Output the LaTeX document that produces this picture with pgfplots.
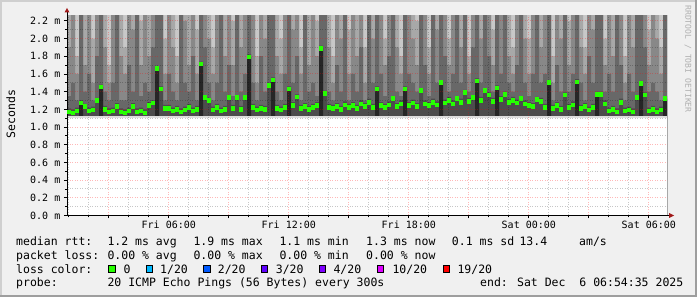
\documentclass[border=0pt]{standalone}
\usepackage{pgfplots}
\pgfplotsset{compat=1.18}
\usepackage{pgfplotstable}
\usepackage{fontspec}
\setmainfont{DejaVu Sans Mono}

\definecolor{bgc}{HTML}{F0F0F0}
\definecolor{shadea}{HTML}{CFCFCF}
\definecolor{shadeb}{HTML}{9E9E9E}
\definecolor{arrowc}{HTML}{A01818}
\definecolor{wmc}{HTML}{B0B0B0}
\definecolor{lossA}{HTML}{26FF00}
\definecolor{lossB}{HTML}{00B8FF}
\definecolor{lossC}{HTML}{0059FF}
\definecolor{lossD}{HTML}{5E00FF}
\definecolor{lossE}{HTML}{7E00FF}
\definecolor{lossF}{HTML}{DD00FF}
\definecolor{lossG}{HTML}{FF0000}
\definecolor{smA}{HTML}{C8C8C8}
\definecolor{smB}{HTML}{A8A8A8}
\definecolor{smC}{HTML}{888888}
\definecolor{smD}{HTML}{686868}
\definecolor{smE}{HTML}{4C4C4C}
\definecolor{smF}{HTML}{262626}
\definecolor{fringe}{HTML}{DEDEDE}

\newcommand\lf{\fontsize{11.5bp}{13bp}\selectfont}

% x = hours since Fri 00:00; med = median rtt (ms); B..F = smoke layer tops (ms)
\pgfplotstableread{
x med B C D E F
0.91 1.17 2.3 1.9 1.35 1.21 0
1.11 1.16 2.3 2.3 1.5 1.20 0
1.31 1.18 1.8 1.6 1.3 1.22 0
1.51 1.27 2.3 2.3 2.3 1.30 1.27
1.71 1.23 2.3 1.7 1.4 1.26 0
1.91 1.18 2.3 2.3 1.6 1.22 0
2.11 1.19 2.0 1.5 1.3 1.23 0
2.31 1.30 2.3 2.3 1.8 1.33 0
2.51 1.45 2.3 2.3 2.3 1.48 1.45
2.71 1.20 2.3 1.9 1.4 1.24 0
2.91 1.17 1.7 1.5 1.3 1.21 0
3.11 1.18 2.3 2.3 1.5 1.22 0
3.31 1.23 2.3 2.3 2.3 1.27 0
3.51 1.17 2.3 1.8 1.3 1.21 0
3.71 1.16 1.9 1.6 1.3 1.20 0
3.91 1.18 2.3 2.3 1.7 1.22 0
4.11 1.23 2.3 2.1 1.4 1.27 0
4.31 1.17 2.3 2.3 2.3 1.21 0
4.51 1.18 2.2 1.7 1.35 1.22 0
4.71 1.16 2.3 2.3 1.5 1.20 0
4.91 1.24 2.3 1.8 1.4 1.28 0
5.11 1.27 2.3 2.3 1.9 1.30 0
5.31 1.66 2.3 2.3 2.3 1.69 1.66
5.51 1.43 2.3 2.3 2.3 1.46 0
5.71 1.21 2.0 1.6 1.3 1.25 0
5.91 1.21 2.3 2.3 1.6 1.25 0
6.11 1.18 2.3 1.9 1.4 1.22 0
6.31 1.20 1.8 1.5 1.3 1.24 0
6.51 1.17 2.3 2.3 2.3 1.21 0
6.71 1.19 2.3 2.2 1.5 1.23 0
6.91 1.22 2.3 1.7 1.4 1.26 0
7.11 1.18 2.3 2.3 1.8 1.22 0
7.31 1.20 2.1 1.6 1.3 1.24 0
7.51 1.71 2.3 2.3 2.3 1.74 1.71
7.71 1.33 2.3 2.3 1.9 1.36 0
7.91 1.30 2.3 2.0 1.5 1.33 0
8.11 1.19 1.9 1.6 1.3 1.23 0
8.31 1.22 2.3 2.3 1.5 1.26 0
8.51 1.18 2.3 2.3 2.3 1.22 0
8.71 1.20 2.3 1.8 1.4 1.24 0
8.91 1.33 2.3 2.3 1.7 1.36 0
9.11 1.21 2.2 1.7 1.35 1.25 0
9.31 1.33 2.3 2.3 2.3 1.36 0
9.51 1.20 2.3 1.9 1.4 1.24 0
9.71 1.33 2.3 2.3 1.6 1.36 0
9.91 1.79 2.3 2.3 2.3 1.82 1.79
10.11 1.22 2.3 2.3 1.5 1.26 0
10.31 1.19 1.8 1.5 1.3 1.23 0
10.51 1.21 2.3 2.3 1.8 1.25 0
10.71 1.20 2.3 2.0 1.4 1.24 0
10.91 1.47 2.3 2.3 2.3 1.50 0
11.11 1.53 2.3 2.3 2.3 1.56 1.53
11.31 1.21 2.3 1.8 1.4 1.25 0
11.51 1.19 2.0 1.6 1.3 1.23 0
11.71 1.22 2.3 2.3 1.6 1.26 0
11.91 1.43 2.3 2.3 2.3 1.46 1.43
12.11 1.24 2.3 2.1 1.5 1.28 0
12.31 1.34 2.3 2.3 1.8 1.37 0
12.51 1.21 1.9 1.6 1.3 1.25 0
12.71 1.23 2.3 2.3 2.3 1.27 0
12.91 1.20 2.3 1.7 1.4 1.24 0
13.11 1.22 2.3 2.3 1.5 1.26 0
13.31 1.24 2.2 1.8 1.35 1.28 0
13.51 1.89 2.3 2.3 2.3 1.92 1.89
13.71 1.38 2.3 2.3 2.3 1.41 0
13.91 1.22 2.3 1.9 1.4 1.26 0
14.11 1.21 1.8 1.5 1.3 1.25 0
14.31 1.23 2.3 2.3 1.7 1.27 0
14.51 1.20 2.3 2.0 1.4 1.24 0
14.71 1.25 2.3 2.3 2.3 1.29 0
14.91 1.22 2.1 1.6 1.3 1.26 0
15.11 1.24 2.3 2.3 1.6 1.28 0
15.31 1.21 2.3 1.8 1.4 1.25 0
15.51 1.26 2.3 2.3 1.9 1.30 0
15.71 1.23 1.9 1.5 1.3 1.27 0
15.91 1.28 2.3 2.3 2.3 1.32 0
16.11 1.22 2.3 2.0 1.5 1.26 0
16.31 1.43 2.3 2.3 2.3 1.46 1.43
16.51 1.24 2.3 2.3 1.6 1.28 0
16.71 1.22 2.0 1.7 1.35 1.26 0
16.91 1.25 2.3 2.3 1.8 1.29 0
17.11 1.32 2.3 2.3 2.3 1.35 0
17.31 1.23 2.3 1.9 1.4 1.27 0
17.51 1.26 1.8 1.6 1.35 1.30 0
17.71 1.43 2.3 2.3 2.3 1.46 1.43
17.91 1.24 2.3 2.3 1.6 1.28 0
18.11 1.27 2.3 2.0 1.5 1.31 0
18.31 1.23 2.2 1.7 1.4 1.27 0
18.51 1.41 2.3 2.3 2.3 1.44 0
18.71 1.26 2.3 2.3 1.7 1.30 0
18.91 1.24 1.9 1.6 1.35 1.28 0
19.11 1.28 2.3 2.3 2.3 1.32 0
19.31 1.25 2.3 2.1 1.5 1.29 0
19.51 1.50 2.3 2.3 2.3 1.53 1.50
19.71 1.27 2.3 2.3 1.8 1.31 0
19.91 1.30 2.0 1.7 1.4 1.34 0
20.11 1.26 2.3 2.3 1.6 1.30 0
20.31 1.32 2.3 2.3 2.3 1.35 0
20.51 1.28 2.3 1.9 1.5 1.32 0
20.71 1.39 2.3 2.3 2.3 1.42 0
20.91 1.29 1.8 1.6 1.4 1.33 0
21.11 1.33 2.3 2.3 1.9 1.36 0
21.31 1.52 2.3 2.3 2.3 1.55 1.52
21.51 1.30 2.3 2.0 1.5 1.34 0
21.71 1.41 2.3 2.3 2.3 1.44 0
21.91 1.36 2.3 2.3 1.8 1.39 0
22.11 1.29 2.1 1.7 1.4 1.33 0
22.31 1.44 2.3 2.3 2.3 1.47 1.44
22.51 1.31 2.3 2.3 1.6 1.35 0
22.71 1.37 2.3 2.3 2.3 1.40 0
22.91 1.28 2.3 1.8 1.5 1.32 0
23.11 1.30 1.9 1.6 1.4 1.34 0
23.31 1.27 2.3 2.3 1.7 1.31 0
23.51 1.32 2.3 2.3 2.3 1.35 0
23.71 1.26 2.3 2.0 1.5 1.30 0
23.91 1.24 2.0 1.6 1.35 1.28 0
24.11 1.23 2.3 2.3 1.6 1.27 0
24.31 1.31 2.3 2.3 2.3 1.34 0
24.51 1.29 2.3 1.9 1.5 1.33 0
24.71 1.22 2.3 2.3 1.6 1.26 0
24.91 1.50 2.3 2.3 2.3 1.53 1.50
25.11 1.21 1.8 1.5 1.3 1.25 0
25.31 1.24 2.3 2.3 1.7 1.28 0
25.51 1.20 2.3 2.0 1.4 1.24 0
25.71 1.36 2.3 2.3 2.3 1.39 0
25.91 1.22 2.2 1.7 1.4 1.26 0
26.11 1.25 2.3 2.3 1.6 1.29 0
26.31 1.51 2.3 2.3 2.3 1.54 1.51
26.51 1.21 2.3 1.9 1.5 1.25 0
26.71 1.23 1.9 1.6 1.3 1.27 0
26.91 1.19 2.3 2.3 1.8 1.23 0
27.11 1.22 2.3 2.1 1.5 1.26 0
27.31 1.37 2.3 2.3 2.3 1.40 1.37
27.51 1.37 2.3 2.3 2.3 1.40 0
27.71 1.26 2.0 1.7 1.4 1.30 0
27.91 1.18 2.3 2.3 1.6 1.22 0
28.11 1.20 2.3 1.8 1.4 1.24 0
28.31 1.17 2.3 2.3 2.3 1.21 0
28.51 1.28 2.3 2.3 1.7 1.32 0
28.71 1.18 1.8 1.5 1.3 1.22 0
28.91 1.19 2.3 2.3 1.6 1.23 0
29.11 1.17 2.3 1.9 1.4 1.21 0
29.31 1.33 2.3 2.3 2.3 1.36 0
29.51 1.49 2.3 2.3 2.3 1.52 1.49
29.71 1.36 2.3 2.3 1.9 1.39 0
29.91 1.18 2.1 1.7 1.4 1.22 0
30.11 1.20 2.3 2.3 1.5 1.24 0
30.31 1.17 2.3 2.0 1.4 1.21 0
30.51 1.19 1.9 1.6 1.3 1.23 0
30.71 1.32 2.3 2.3 2.3 1.35 1.32
30.91 1.32 2.3 2.3 2.3 1.35 1.32
}\smoke

\begin{document}
\begin{tikzpicture}
\useasboundingbox (0bp,0bp) rectangle (697bp,297bp);
\fill[bgc] (0bp,0bp) rectangle (697bp,297bp);
\fill[shadea] (0bp,0bp) rectangle (2bp,297bp);
\fill[shadea] (0bp,295bp) rectangle (697bp,297bp);
\fill[shadeb] (695bp,0bp) rectangle (697bp,297bp);
\fill[shadeb] (0bp,0bp) rectangle (697bp,2bp);
\fill[white] (67bp,81.5bp) rectangle (667bp,281.5bp);

\begin{axis}[
  at={(67bp,81.5bp)}, anchor=south west,
  scale only axis, width=600bp, height=200bp,
  xmin=0.91, xmax=30.91, ymin=0, ymax=2.26,
  axis lines*=left,
  axis line style={line width=1bp, black},
  axis on top,
  tick align=outside, major tick length=3bp, minor tick length=2bp,
  tick style={line width=0.8bp, black},
  xtick={3,6,...,30},
  xticklabels={,Fri 06:00,,Fri 12:00,,Fri 18:00,,Sat 00:00,,Sat 06:00},
  minor xtick={1,2,4,5,7,8,10,11,13,14,16,17,19,20,22,23,25,26,28,29},
  ytick={0,0.2,0.4,0.6,0.8,1.0,1.2,1.4,1.6,1.8,2.0,2.2},
  yticklabels={0.0 m,0.2 m,0.4 m,0.6 m,0.8 m,1.0 m,1.2 m,1.4 m,1.6 m,1.8 m,2.0 m,2.2 m},
  minor ytick={0.1,0.3,0.5,0.7,0.9,1.1,1.3,1.5,1.7,1.9,2.1},
  grid=both,
  major grid style={draw=red, opacity=0.28, line width=0.9bp, dash pattern=on 1bp off 1.5bp},
  minor grid style={draw=black, opacity=0.22, line width=0.9bp, dash pattern=on 1bp off 1.5bp},
  tick label style={font=\fontsize{10bp}{11bp}\selectfont},
  xticklabel style={anchor=north, inner sep=0pt, yshift=-2.5bp},
  yticklabel style={anchor=east, inner sep=0pt, xshift=-3.5bp},
]
\addplot[fill=smA, draw=none] coordinates {(0.91,2.3) (30.91,2.3)} \closedcycle;
\addplot[const plot, fill=smB, draw=none] table[x=x, y=B] {\smoke} \closedcycle;
\addplot[const plot, fill=smC, draw=none] table[x=x, y=C] {\smoke} \closedcycle;
\addplot[const plot, fill=smD, draw=none] table[x=x, y=D] {\smoke} \closedcycle;
\addplot[const plot, fill=smE, draw=none] table[x=x, y=E] {\smoke} \closedcycle;
\addplot[const plot, fill=smF, draw=none] table[x=x, y=F] {\smoke} \closedcycle;
\addplot[fill=fringe, draw=none] coordinates {(0.91,1.125) (30.91,1.125)} \closedcycle;
\addplot[fill=white, draw=none] coordinates {(0.91,1.10) (30.91,1.10)} \closedcycle;
\addplot[color=lossA, only marks, mark=square*, mark size=1.8bp,
  mark options={solid, fill=lossA, draw=lossA, line width=0pt},
  skip coords between index={150}{151}] table[x expr=\thisrow{x}+0.1, y=med] {\smoke};
\end{axis}

% axis arrows
\draw[line width=1bp] (67bp,281.5bp) -- (67bp,285bp);
\fill[arrowc] (64.5bp,284.5bp) -- (69.5bp,284.5bp) -- (67bp,289bp) -- cycle;
\draw[line width=1bp] (667bp,81.5bp) -- (670bp,81.5bp);
\fill[arrowc] (669bp,79bp) -- (669bp,84bp) -- (674bp,81.5bp) -- cycle;

% y label and watermark
\node[rotate=90, anchor=base, inner sep=0pt, font=\lf] at (15bp,183bp) {Seconds};
\node[rotate=-90, inner sep=0pt, text=wmc, font=\fontsize{8.1bp}{9bp}\selectfont] at (688bp,238bp) {RRDTOOL / TOBI OETIKER};

% legend rows
\begin{scope}[every node/.style={anchor=base west, inner sep=0pt, font=\lf}]
\node at (16bp,51.3bp) {median rtt:};
\node at (107.3bp,51.3bp) {1.2 ms avg};
\node at (193.3bp,51.3bp) {1.9 ms max};
\node at (279.3bp,51.3bp) {1.1 ms min};
\node at (366bp,51.3bp) {1.3 ms now};
\node at (451.7bp,51.3bp) {0.1 ms sd};
\node at (519.3bp,51.3bp) {13.4};
\node at (579bp,51.3bp) {am/s};

\node at (16bp,37.7bp) {packet loss:};
\node at (107.3bp,37.7bp) {0.00 \% avg};
\node at (193.3bp,37.7bp) {0.00 \% max};
\node at (279.3bp,37.7bp) {0.00 \% min};
\node at (366bp,37.7bp) {0.00 \% now};

\node at (16bp,23.7bp) {loss color:};
\node at (123.3bp,23.7bp) {0};
\node at (160bp,23.7bp) {1/20};
\node at (217.7bp,23.7bp) {2/20};
\node at (275.7bp,23.7bp) {3/20};
\node at (333.3bp,23.7bp) {4/20};
\node at (392.3bp,23.7bp) {10/20};
\node at (457.3bp,23.7bp) {19/20};

\node at (16bp,10.3bp) {probe:};
\node at (107.3bp,10.3bp) {20 ICMP Echo Pings (56 Bytes) every 300s};
\node at (480bp,10.3bp) {end: Sat Dec~~6 06:54:35 2025};
\end{scope}

\begin{scope}[line width=0.8bp]
\filldraw[fill=lossA, draw=black] (108.7bp,24.4bp) rectangle (115bp,31.2bp);
\filldraw[fill=lossB, draw=black] (146.1bp,24.4bp) rectangle (152.4bp,31.2bp);
\filldraw[fill=lossC, draw=black] (203.7bp,24.4bp) rectangle (210bp,31.2bp);
\filldraw[fill=lossD, draw=black] (261.1bp,24.4bp) rectangle (267.4bp,31.2bp);
\filldraw[fill=lossE, draw=black] (319.4bp,24.4bp) rectangle (325.7bp,31.2bp);
\filldraw[fill=lossF, draw=black] (377.1bp,24.4bp) rectangle (383.4bp,31.2bp);
\filldraw[fill=lossG, draw=black] (443.1bp,24.4bp) rectangle (449.4bp,31.2bp);
\end{scope}
\end{tikzpicture}
\end{document}
